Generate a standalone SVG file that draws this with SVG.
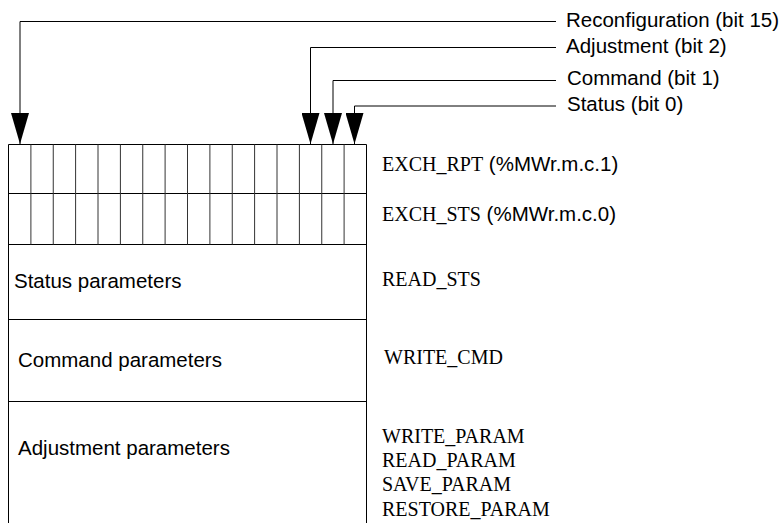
<svg xmlns="http://www.w3.org/2000/svg" width="781" height="523" viewBox="0 0 781 523">
<style>
.ln{fill:none;stroke:#000;stroke-width:1}
.gl{fill:none;stroke:#333;stroke-width:1}
.sans{font-family:"Liberation Sans",Arial,sans-serif;font-size:20.5px;fill:#000}
.serif{font-family:"Liberation Serif","Times New Roman",serif;font-size:20px;fill:#000}
.sans2{font-family:"Liberation Sans",Arial,sans-serif;font-size:20.5px}
</style>
<defs>
<marker id="ah" markerUnits="userSpaceOnUse" viewBox="0 0 31 18" refX="31" refY="9" markerWidth="31" markerHeight="18" orient="auto">
<path d="M0,0 L31,9 L0,18 z" fill="#000"/>
</marker>
</defs>
<rect width="781" height="523" fill="#fff"/>
<g id="register-table">
<path class="ln" d="M8.5,523 V144.5 H366.5 V523"/>
<path class="ln" d="M8.5,193.5 H366.5 M8.5,244.5 H366.5 M8.5,319.5 H366.5 M8.5,401.5 H366.5"/>
<path class="gl" d="M30.9,144.5 V244.5 M53.25,144.5 V244.5 M75.6,144.5 V244.5 M98,144.5 V244.5 M120.4,144.5 V244.5 M142.75,144.5 V244.5 M165.1,144.5 V244.5 M187.5,144.5 V244.5 M209.9,144.5 V244.5 M232.25,144.5 V244.5 M254.6,144.5 V244.5 M277,144.5 V244.5 M299.4,144.5 V244.5 M321.75,144.5 V244.5 M344.1,144.5 V244.5"/>
</g>
<g id="connectors">
<path class="ln" d="M556,21.5 H20 V144" marker-end="url(#ah)"/>
<path class="ln" d="M556,47.5 H310.5 V144" marker-end="url(#ah)"/>
<path class="ln" d="M556,80.5 H333 V144" marker-end="url(#ah)"/>
<path class="ln" d="M556,106 H354.5 V144" marker-end="url(#ah)"/>
</g>
<g id="bit-labels">
<text class="sans" x="566" y="27">Reconfiguration (bit 15)</text>
<text class="sans" x="566" y="53">Adjustment (bit 2)</text>
<text class="sans" x="567" y="85">Command (bit 1)</text>
<text class="sans" x="567" y="111">Status (bit 0)</text>
</g>
<g id="row-labels">
<text class="sans" x="14" y="288">Status parameters</text>
<text class="sans" x="18" y="367">Command parameters</text>
<text class="sans" x="18" y="455">Adjustment parameters</text>
</g>
<g id="register-names">
<text class="serif" x="382" y="171">EXCH_RPT<tspan class="sans2"> (%MWr.m.c.1)</tspan></text>
<text class="serif" x="382" y="221">EXCH_STS<tspan class="sans2"> (%MWr.m.c.0)</tspan></text>
<text class="serif" x="382" y="286">READ_STS</text>
<text class="serif" x="384" y="364">WRITE_CMD</text>
<text class="serif" x="382" y="443">WRITE_PARAM</text>
<text class="serif" x="382" y="467">READ_PARAM</text>
<text class="serif" x="382" y="491">SAVE_PARAM</text>
<text class="serif" x="382" y="516">RESTORE_PARAM</text>
</g>
</svg>
